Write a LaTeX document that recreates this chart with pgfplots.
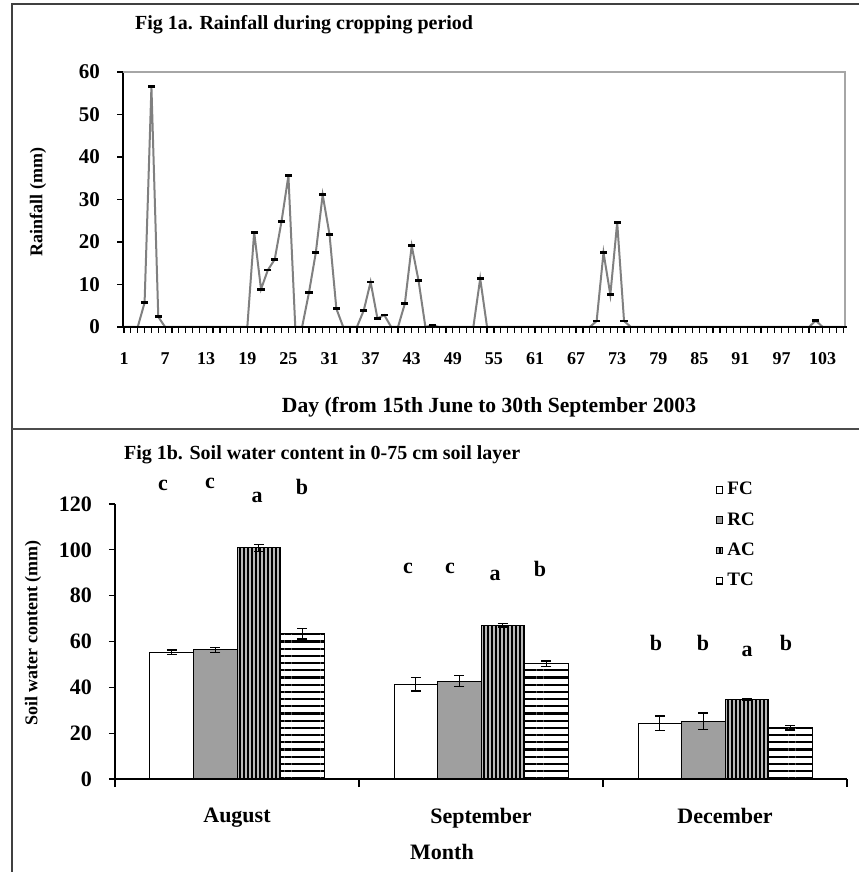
\documentclass[border=0pt]{standalone}
\usepackage{pgfplots}
\pgfplotsset{compat=1.18}
\usepackage{pgfplotstable}
\usepackage{fontspec}
\setmainfont{Liberation Serif}
\usetikzlibrary{patterns.meta}

\pgfplotstableread{
day rain
1 0
2 0
3 0
4 5.7
5 56.5
6 2.4
7 0
8 0
9 0
10 0
11 0
12 0
13 0
14 0
15 0
16 0
17 0
18 0
19 0
20 22.3
21 8.9
22 13.4
23 15.9
24 24.9
25 35.6
26 0
27 0
28 8.1
29 17.5
30 31.1
31 21.8
32 4.3
33 0
34 0
35 0
36 3.9
37 10.6
38 2.0
39 2.8
40 0
41 0
42 5.5
43 19.1
44 10.9
45 0
46 0.4
47 0
48 0
49 0
50 0
51 0
52 0
53 11.4
54 0
55 0
56 0
57 0
58 0
59 0
60 0
61 0
62 0
63 0
64 0
65 0
66 0
67 0
68 0
69 0
70 1.4
71 17.5
72 7.6
73 24.6
74 1.4
75 0
76 0
77 0
78 0
79 0
80 0
81 0
82 0
83 0
84 0
85 0
86 0
87 0
88 0
89 0
90 0
91 0
92 0
93 0
94 0
95 0
96 0
97 0
98 0
99 0
100 0
101 0
102 1.5
103 0
104 0
105 0
106 0
}\raintable

\begin{document}
\begin{tikzpicture}[x=0.5pt,y=0.5pt]
\useasboundingbox (0,0) rectangle (859,872);
\draw[black!75, line width=0.8pt] (12,0) -- (12,868) -- (859,868);
\draw[black!70, line width=1.1pt] (12,443) -- (859,443);

% ---------- Fig 1a ----------
\begin{axis}[
  at={(61.5pt,272.5pt)}, anchor=south west, scale only axis,
  width=361pt, height=127.5pt,
  xmin=0.85, xmax=106.26, ymin=0, ymax=60,
  axis x line*=bottom, axis y line*=left,
  axis line style={-, black, line width=0.7pt},
  xtick={1,7,...,103}, minor xtick={1,...,106},
  ytick={0,10,...,60},
  tick align=outside, major tick length=3pt, minor tick length=3pt,
  tick style={black, line width=0.6pt},
  /pgf/number format/assume math mode=true,
  xticklabel style={font=\bfseries\fontsize{9}{10}\selectfont, yshift=-6pt, text height=6pt},
  yticklabel style={font=\bfseries\fontsize{10.5}{12}\selectfont, xshift=-5pt},
  clip=false,
]
\draw[gray!70, line width=0.7pt] (rel axis cs:0,1) -- (rel axis cs:1,1) -- (rel axis cs:1,0);
\addplot[black!50, line width=1pt, mark=-, mark size=1.8pt,
  mark options={black, line width=1.4pt, solid}] table[x=day,y=rain]{\raintable};
\end{axis}

\node[anchor=west, font=\bfseries\fontsize{10}{12}\selectfont] at (128,847) {Fig 1a. Rainfall during cropping period};
\node[rotate=90, font=\bfseries\fontsize{9}{11}\selectfont] at (38,670) {Rainfall (mm)};
\node[font=\bfseries\fontsize{10.8}{12}\selectfont] at (489,465) {Day (from 15th June to 30th September 2003};

% ---------- Fig 1b ----------
\begin{axis}[
  at={(57.5pt,46.5pt)}, anchor=south west, scale only axis,
  width=366pt, height=137.5pt,
  ybar=0pt, bar width=21.75pt,
  xmin=-0.5, xmax=2.5, ymin=0, ymax=120,
  ytick={0,20,...,120},
  xtick={0,1,2}, xticklabels={August,September,December},
  minor xtick={-0.5,0.5,1.5,2.5},
  major x tick style={draw=none},
  axis x line*=bottom, axis y line*=left,
  axis line style={-, black, line width=0.7pt},
  tick align=outside, major tick length=3pt, minor tick length=4pt,
  tick style={black, line width=0.6pt},
  /pgf/number format/assume math mode=true,
  xticklabel style={font=\bfseries\fontsize{11}{12}\selectfont, yshift=-8pt},
  yticklabel style={font=\bfseries\fontsize{11}{12}\selectfont, xshift=-5pt},
  error bars/error bar style={black, line width=0.6pt},
  error bars/error mark options={rotate=90, mark size=2.5pt, black, line width=0.6pt},
  legend image code/.code={\draw[#1] (0pt,-1.7pt) rectangle (3.4pt,1.7pt);},
  legend style={at={(rel axis cs:0.82,1.095)}, anchor=north west, draw=none, fill=none,
    font=\bfseries\fontsize{9.5}{11}\selectfont, row sep=3.3pt, inner sep=0pt,
    /tikz/every even column/.append style={column sep=1pt}},
  legend cell align=left,
  clip=false,
]
\addplot[fill=white, draw=black, line width=0.5pt,
  error bars/.cd, y dir=both, y explicit]
  coordinates {(0,55.3) +- (0,1.0) (1,41.3) +- (0,2.9) (2,24.3) +- (0,3.2)};
\addplot[fill=gray!75, draw=black, line width=0.5pt,
  error bars/.cd, y dir=both, y explicit]
  coordinates {(0,56.3) +- (0,1.2) (1,42.7) +- (0,2.5) (2,25.2) +- (0,3.6)};
\addplot[fill=gray!55, draw=black, line width=0.5pt,
  postaction={pattern={Lines[angle=90,distance=2pt,line width=0.75pt]}, pattern color=black},
  error bars/.cd, y dir=both, y explicit]
  coordinates {(0,100.8) +- (0,1.4) (1,67.0) +- (0,0.7) (2,34.8) +- (0,0.4)};
\addplot[fill=white, draw=black, line width=0.5pt,
  postaction={pattern={Lines[angle=0,distance=3.6pt,line width=1.1pt]}, pattern color=black},
  error bars/.cd, y dir=both, y explicit]
  coordinates {(0,63.3) +- (0,2.2) (1,50.3) +- (0,1.2) (2,22.4) +- (0,1.0)};
\legend{FC,RC,AC,TC}
\end{axis}

\node[anchor=west, font=\bfseries\fontsize{10}{12}\selectfont] at (117,417) {Fig 1b. Soil water content in 0-75 cm soil layer};
\node[rotate=90, font=\bfseries\fontsize{9}{11}\selectfont] at (33,239) {Soil water content (mm)};
\node[font=\bfseries\fontsize{11}{12}\selectfont] at (442,20) {Month};

\begin{scope}[every node/.style={font=\bfseries\fontsize{11}{12}\selectfont}]
\node at (163,387) {c};
\node at (210,389) {c};
\node at (257,375) {a};
\node at (302,385) {b};
\node at (408,304) {c};
\node at (450,304) {c};
\node at (495,297) {a};
\node at (540,303) {b};
\node at (656,229) {b};
\node at (703,229) {b};
\node at (747,221) {a};
\node at (786,229) {b};
\end{scope}
\end{tikzpicture}
\end{document}
